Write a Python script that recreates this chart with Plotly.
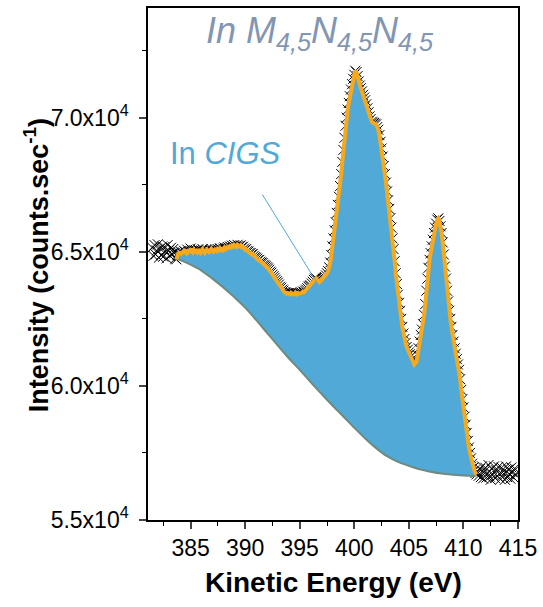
import numpy as np
import plotly.graph_objects as go

# ---- data -------------------------------------------------------------
energy_start = 381.5
energy_step = 0.1
counts = [
    65150, 64850, 65250, 64900, 65050, 65280, 64780, 65120, 64880, 65200,
    64820, 65180, 65000, 64760, 65250, 65050, 64850, 65150, 64920, 65100,
    64950, 64750, 64720, 64880, 64980, 64890, 65010, 64950, 64980, 65040,
    65000, 64960, 65080, 64990, 65030, 65120, 65020, 64980, 65060, 65010,
    65040, 64990, 65090, 65030, 64970, 65050, 65100, 65010, 64960, 65040,
    65080, 65020, 64990, 65060, 65110, 65030, 65000, 65070, 65090, 65040,
    65100, 65060, 65130, 65080, 65050, 65120, 65160, 65090, 65140, 65180,
    65150, 65200, 65170, 65230, 65190, 65250, 65210, 65180, 65260, 65220,
    65200, 65240, 65170, 65190, 65120, 65080, 65100, 65030, 65010, 64960,
    64950, 64900, 64920, 64850, 64800, 64780, 64740, 64690, 64700, 64630,
    64600, 64580, 64520, 64490, 64460, 64420, 64380, 64330, 64260, 64220,
    64150, 64090, 64030, 63960, 63900, 63850, 63780, 63700, 63660, 63590,
    63550, 63500, 63480, 63440, 63460, 63450, 63420, 63470, 63430, 63410,
    63430, 63470, 63420, 63460, 63440, 63450, 63490, 63470, 63520, 63500,
    63550, 63590, 63640, 63700, 63730, 63750, 63820, 63880, 63950, 64000,
    64020, 63950, 63890, 63870, 63900, 63950, 63990, 64020, 64060, 64120,
    64200, 64280, 64420, 64600, 64880, 65200, 65500, 65800, 66100, 66450,
    66750, 67050, 67450, 67900, 68350, 68800, 69250, 69700, 70000, 70300,
    70550, 70800, 71050, 71250, 71450, 71600, 71750, 71700, 71550, 71350,
    71200, 71100, 70980, 70850, 70750, 70650, 70500, 70350, 70200, 70050,
    69950, 69850, 69820, 69800, 69780, 69750, 69650, 69550, 69350, 69100,
    68850, 68550, 68200, 67900, 67580, 67250, 66920, 66600, 66250, 65900,
    65500, 65100, 64650, 64200, 63800, 63400, 63100, 62800, 62500, 62200,
    61950, 61750, 61600, 61450, 61350, 61250, 61180, 61100, 61000, 60900,
    60800, 60850, 60900, 61150, 61400, 61650, 61900, 62100, 62300, 62650,
    63050, 63550, 64000, 64400, 64700, 64950, 65200, 65450, 65700, 65900,
    66050, 66200, 66250, 66150, 65950, 65700, 65350, 64900, 64450, 64000,
    63550, 63150, 62800, 62500, 62200, 61900, 61650, 61400, 61200, 61000,
    60800, 60600, 60250, 59850, 59500, 59200, 58850, 58550, 58250, 57950,
    57700, 57500, 57300, 57100, 56950, 56850, 56750, 56700, 56800, 56650,
    56900, 56600, 57000, 56550, 56800, 56950, 56580, 56750, 57050, 56620,
    56500, 56900, 56700, 57000, 56560, 56850, 56640, 56980, 56720, 56520,
    56950, 56680, 56820, 56500, 57000, 56600, 56880, 56700, 56540, 56960,
    56780, 56580, 56920, 56700,
]
energy = np.round(energy_start + energy_step * np.arange(len(counts)), 1)

# integration window (peak region)
window_lo = 383.7
window_hi = 411.2

# Shirley-type background
bg_energy = [383.7, 384, 385, 386, 387, 388, 389, 390, 391, 392, 393, 394,
             395, 396, 397, 398, 399, 400, 401, 402, 403, 404, 405, 406,
             407, 408, 409, 410, 411, 411.2]
bg_counts = [64740, 64700, 64520, 64300, 64000, 63670, 63310, 62920, 62460,
             61980, 61500, 61030, 60600, 60140, 59700, 59270, 58860, 58440,
             58040, 57680, 57380, 57170, 57020, 56890, 56800, 56730, 56690,
             56660, 56650, 56650]

x_ticks = [385, 390, 395, 400, 405, 410, 415]
y_ticks = [55000, 60000, 65000, 70000]
y_tick_text = ["5.5x10<sup>4</sup>", "6.0x10<sup>4</sup>",
               "6.5x10<sup>4</sup>", "7.0x10<sup>4</sup>"]

title_text = "<i>In M<sub>4,5</sub>N<sub>4,5</sub>N<sub>4,5</sub></i>"
label_text = "In <i>CIGS</i>"

# ---- figure -----------------------------------------------------------
FONT = "Liberation Sans, Arial, sans-serif"
BLUE = "#50A9D6"
ORANGE = "#F7A81B"
GRAY = "#6F8A80"

mask = (energy >= window_lo - 1e-9) & (energy <= window_hi + 1e-9)

fig = go.Figure()
fig.add_trace(go.Scatter(
    x=energy, y=counts, mode="markers",
    marker=dict(symbol="x-thin", size=10, color="black",
                line=dict(color="black", width=1)),
    hoverinfo="skip", showlegend=False))
fig.add_trace(go.Scatter(
    x=bg_energy, y=bg_counts, mode="lines",
    line=dict(color=GRAY, width=2, shape="spline"),
    showlegend=False))
fig.add_trace(go.Scatter(
    x=energy[mask], y=np.array(counts)[mask], mode="lines",
    line=dict(color=ORANGE, width=4),
    fill="tonexty", fillcolor=BLUE,
    showlegend=False))

fig.add_annotation(x=396.9, y=73150, xref="x", yref="y", text=title_text,
                   xanchor="center", yanchor="middle",
                   showarrow=False, font=dict(family=FONT, size=36, color="#8295B2"))
fig.add_annotation(x=388.2, y=68660, xref="x", yref="y", text=label_text,
                   xanchor="center", yanchor="middle",
                   showarrow=False, font=dict(family=FONT, size=31, color=BLUE))
fig.add_shape(type="line", x0=391.57, y0=67138, x1=396.66, y1=63793,
              xref="x", yref="y", line=dict(color=BLUE, width=1))

fig.add_annotation(x=0.5, y=-0.123, xref="paper", yref="paper",
                   xanchor="center", yanchor="middle",
                   text="<b>Kinetic Energy (eV)</b>", showarrow=False,
                   font=dict(family=FONT, size=28, color="black"))
fig.add_annotation(x=-0.302, y=0.498, xref="paper", yref="paper", textangle=-90,
                   xanchor="center", yanchor="middle",
                   text="<b>Intensity (counts.sec<sup>-1</sup>)</b>", showarrow=False,
                   font=dict(family=FONT, size=27, color="black"))

fig.update_layout(
    width=543, height=607,
    margin=dict(l=148, r=22, t=6, b=87),
    paper_bgcolor="white", plot_bgcolor="white",
    font=dict(family=FONT, size=23, color="black"),
)
fig.update_xaxes(
    range=[381.1, 415.0], tickvals=x_ticks, ticks="outside", ticklen=7, tickwidth=1.5,
    showline=True, linecolor="black", linewidth=1.5, mirror=True,
    showgrid=False, zeroline=False,
    tickfont=dict(family=FONT, size=23, color="black"),
    minor=dict(dtick=2.5, tick0=385, ticks="outside", ticklen=4, tickwidth=1.2,
               tickcolor="black", showgrid=False),
)
fig.update_yaxes(
    range=[55000, 74090], tickvals=y_ticks, ticktext=y_tick_text,
    ticks="outside", ticklen=7, tickwidth=1.5, ticklabelstandoff=6,
    showline=True, linecolor="black", linewidth=1.5, mirror=True,
    showgrid=False, zeroline=False,
    tickfont=dict(family=FONT, size=23, color="black"),
    minor=dict(dtick=2500, tick0=55000, ticks="outside", ticklen=4, tickwidth=1.2,
               tickcolor="black", showgrid=False),
)

fig.write_html("out.html", config={"displayModeBar": False},
               post_script="document.body.style.margin='0';")
